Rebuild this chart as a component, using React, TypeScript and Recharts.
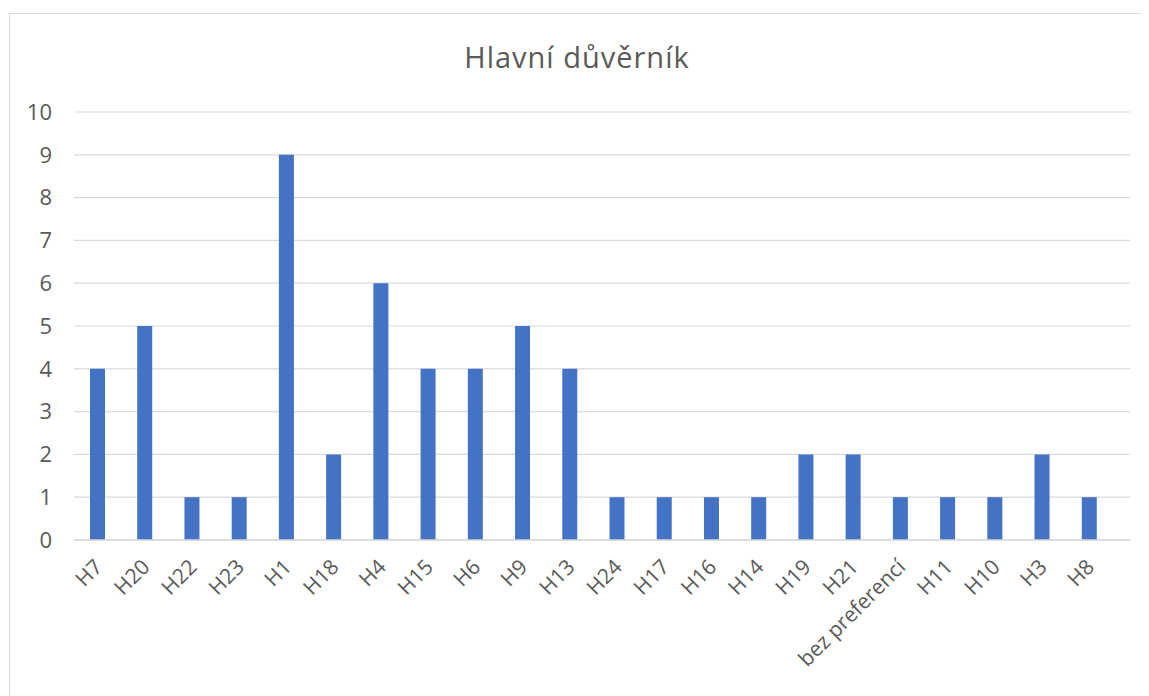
import React from "react";
import { Bar, BarChart, CartesianGrid, XAxis, YAxis } from "recharts";

const categories = [
  "H7", "H20", "H22", "H23", "H1", "H18", "H4", "H15", "H6", "H9", "H13",
  "H24", "H17", "H16", "H14", "H19", "H21", "bez preferencí", "H11", "H10", "H3", "H8",
];
const counts = [4, 5, 1, 1, 9, 2, 6, 4, 4, 5, 4, 1, 1, 1, 1, 2, 2, 1, 1, 1, 2, 1];
const yTicks = [0, 1, 2, 3, 4, 5, 6, 7, 8, 9, 10];

const data = categories.map((name, i) => ({ name, value: counts[i] }));

const FONT = "'Open Sans', 'Noto Sans', sans-serif";
const TEXT = "#595959";
const GRID = "#d9d9d9";

function AngledTick(props: any) {
  const { x, y, payload } = props;
  return (
    <g transform={`translate(${x + 1},${y + 15})`}>
      <text
        transform="rotate(-45)"
        textAnchor="end"
        dy="0.35em"
        fill={TEXT}
        fontSize={21}
        fontFamily={FONT}
      >
        {payload.value}
      </text>
    </g>
  );
}

export default function App() {
  return (
    <div style={{ position: "relative", width: 1141, height: 688, overflow: "hidden" }}>
      <div
        style={{
          position: "absolute",
          left: 1,
          top: 5,
          width: 1200,
          height: 800,
          border: `1px solid ${GRID}`,
        }}
      />
      <div
        style={{
          position: "absolute",
          left: 0,
          width: 1138,
          top: 29,
          textAlign: "center",
          fontFamily: FONT,
          fontSize: 29,
          letterSpacing: 1,
          color: TEXT,
        }}
      >
        Hlavní důvěrník
      </div>
      <div style={{ position: "absolute", left: 0, top: 0 }}>
        <BarChart
          width={1141}
          height={688}
          data={data}
          margin={{ top: 104, right: 19, bottom: 6, left: 26 }}
          barCategoryGap={0}
        >
          <CartesianGrid vertical={false} stroke={GRID} strokeWidth={1.2} />
          <YAxis
            width={40}
            domain={[0, 10]}
            ticks={yTicks}
            interval={0}
            axisLine={false}
            tickLine={false}
            tickMargin={16}
            tick={{ fill: TEXT, fontSize: 22, fontFamily: FONT }}
          />
          <XAxis
            dataKey="name"
            height={150}
            interval={0}
            padding={{ left: 0, right: 17 }}
            tickLine={false}
            axisLine={{ stroke: GRID, strokeWidth: 1.5 }}
            tick={<AngledTick />}
          />
          <Bar dataKey="value" fill="#4472C4" barSize={15} isAnimationActive={false} />
        </BarChart>
      </div>
    </div>
  );
}
